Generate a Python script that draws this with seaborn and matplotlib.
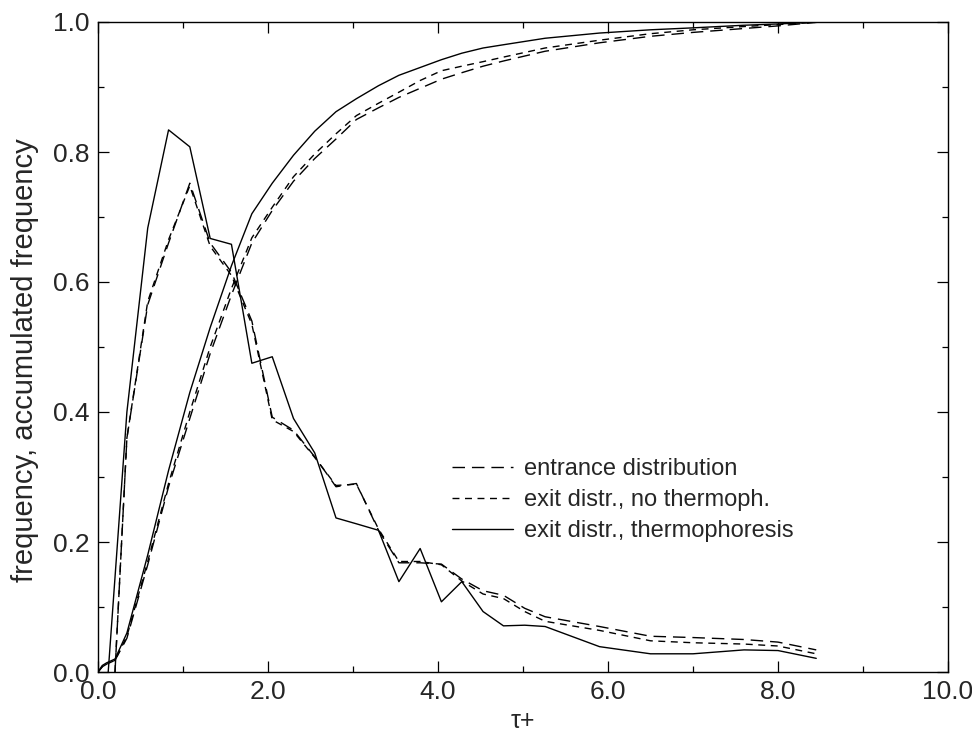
import numpy as np
import pandas as pd
import matplotlib
matplotlib.use("Agg")
import matplotlib.pyplot as plt
import seaborn as sns
from matplotlib.ticker import MultipleLocator, FormatStrFormatter

# ---------------- data ----------------
# frequency curves
t_pdf_thermo = [0.12, 0.34, 0.585, 0.83, 1.08, 1.32, 1.57, 1.81, 2.05, 2.3, 2.55, 2.8,
                3.04, 3.3, 3.54, 3.79, 4.04, 4.28, 4.53, 4.77, 5.02, 5.26, 5.9, 6.5,
                7.0, 7.6, 8.0, 8.45]
f_thermo = [0.0, 0.40, 0.683, 0.834, 0.808, 0.667, 0.658, 0.475, 0.485, 0.39, 0.337, 0.237,
            0.228, 0.218, 0.139, 0.19, 0.108, 0.139, 0.093, 0.071, 0.072, 0.07, 0.039, 0.028,
            0.028, 0.034, 0.033, 0.021]

t_pdf = [0.2, 0.34, 0.585, 0.83, 1.08, 1.32, 1.57, 1.81, 2.05, 2.3, 2.55, 2.8,
         3.04, 3.3, 3.54, 3.79, 4.04, 4.28, 4.53, 4.77, 5.02, 5.26, 5.9, 6.5,
         7.0, 7.6, 8.0, 8.45]
f_entrance = [0.0, 0.36, 0.565, 0.66, 0.752, 0.66, 0.615, 0.54, 0.392, 0.372, 0.331, 0.285,
              0.29, 0.218, 0.168, 0.168, 0.166, 0.143, 0.125, 0.118, 0.098, 0.085, 0.07, 0.055,
              0.053, 0.05, 0.046, 0.034]
f_exit_nothermo = [0.0, 0.36, 0.57, 0.665, 0.748, 0.655, 0.61, 0.535, 0.388, 0.37, 0.33, 0.287,
                   0.289, 0.22, 0.17, 0.17, 0.165, 0.14, 0.12, 0.113, 0.093, 0.078, 0.064, 0.048,
                   0.045, 0.043, 0.04, 0.028]

# accumulated frequency curves
t_cum = [0.0, 0.05, 0.1, 0.2, 0.34, 0.585, 0.83, 1.08, 1.32, 1.57, 1.81, 2.05, 2.3, 2.55,
         2.8, 3.04, 3.3, 3.54, 3.79, 4.04, 4.28, 4.53, 4.77, 5.26, 5.9, 6.5, 7.0, 7.6, 8.0, 8.5]
c_thermo = [0.0, 0.01, 0.014, 0.02, 0.06, 0.18, 0.31, 0.43, 0.53, 0.625, 0.705, 0.752, 0.795,
            0.832, 0.862, 0.882, 0.902, 0.918, 0.93, 0.942, 0.952, 0.96, 0.965, 0.975, 0.983,
            0.988, 0.991, 0.995, 0.997, 1.0]
c_exit_nothermo = [0.0, 0.008, 0.012, 0.018, 0.055, 0.17, 0.29, 0.40, 0.50, 0.59, 0.668, 0.715,
                   0.762, 0.797, 0.828, 0.856, 0.875, 0.892, 0.91, 0.925, 0.932, 0.939, 0.946,
                   0.96, 0.972, 0.982, 0.988, 0.993, 0.996, 1.0]
c_entrance = [0.0, 0.008, 0.012, 0.018, 0.052, 0.165, 0.285, 0.39, 0.49, 0.58, 0.66, 0.71,
              0.755, 0.79, 0.82, 0.85, 0.868, 0.884, 0.898, 0.912, 0.922, 0.932, 0.94, 0.955,
              0.968, 0.978, 0.984, 0.99, 0.994, 1.0]

legend_labels = ["entrance distribution", "exit distr., no thermoph.",
                 "exit distr., thermophoresis"]
x_label = "\u03c4+"
y_label = "frequency, accumulated frequency"

# ---------------- style ----------------
sns.set_theme(style="ticks")
plt.rcParams["font.family"] = ["Liberation Sans", "DejaVu Sans"]

fig = plt.figure(figsize=(9.72, 7.37), dpi=100)
ax = fig.add_axes([98 / 972, 1 - 672 / 737, 850 / 972, 650 / 737])

LW = 1.0
long_dash = (9, 5)
short_dash = (5, 4)

def draw(x, y, dashes, label=None):
    sns.lineplot(x=x, y=y, ax=ax, color="black", linewidth=LW, label=label,
                 legend=False, sort=False, estimator=None)
    line = ax.lines[-1]
    if dashes is not None:
        line.set_dashes(dashes)
    return line

h1 = draw(t_pdf, f_entrance, long_dash, legend_labels[0])
h2 = draw(t_pdf, f_exit_nothermo, short_dash, legend_labels[1])
h3 = draw(t_pdf_thermo, f_thermo, None, legend_labels[2])
draw(t_cum, c_entrance, long_dash)
draw(t_cum, c_exit_nothermo, short_dash)
draw(t_cum, c_thermo, None)

ax.set_xlim(0, 10)
ax.set_ylim(0, 1)
ax.xaxis.set_major_locator(MultipleLocator(2))
ax.xaxis.set_minor_locator(MultipleLocator(1))
ax.yaxis.set_major_locator(MultipleLocator(0.2))
ax.yaxis.set_minor_locator(MultipleLocator(0.1))
ax.xaxis.set_major_formatter(FormatStrFormatter("%.1f"))
ax.yaxis.set_major_formatter(FormatStrFormatter("%.1f"))
ax.tick_params(which="both", direction="in", top=True, right=True, color="black",
               width=0.9)
ax.tick_params(which="major", length=8, labelsize=19, pad=6)
ax.tick_params(which="minor", length=4.5)
for s in ax.spines.values():
    s.set_visible(True)
    s.set_linewidth(1.0)
    s.set_color("black")

ax.set_xlabel(x_label, fontsize=18, labelpad=3)
ax.set_ylabel(y_label, fontsize=21)
ax.yaxis.set_label_coords((39 - 98) / 850, (672 - 360) / 650)

leg = ax.legend(handles=[h1, h2, h3], labels=legend_labels, loc="upper left",
                bbox_to_anchor=((452 - 98) / 850, (672 - 458) / 650),
                frameon=False, fontsize=17, handlelength=2.6, handletextpad=0.45,
                labelspacing=0.38, borderpad=0, borderaxespad=0)

fig.savefig("out.png", dpi=100)
